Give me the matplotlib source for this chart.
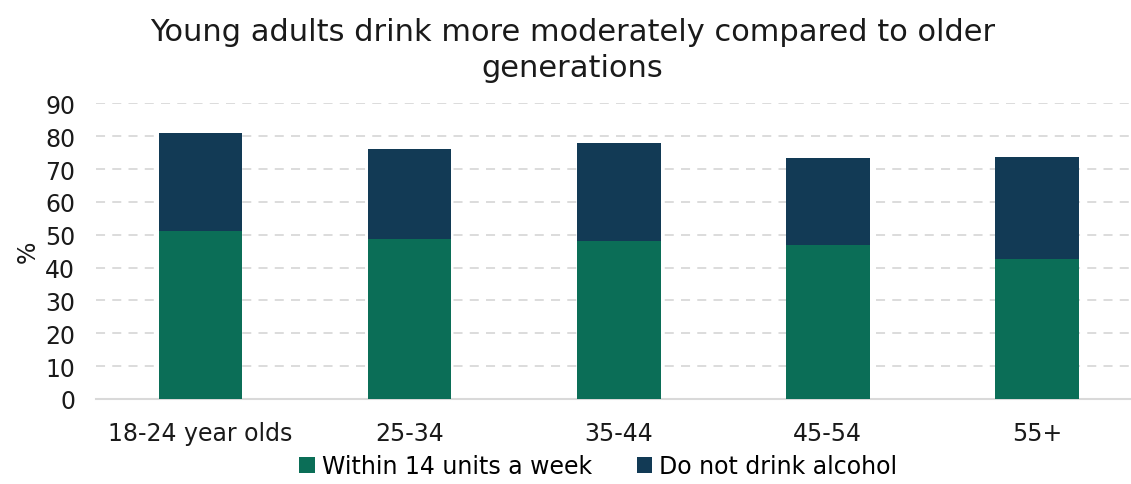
import matplotlib
matplotlib.use("Agg")
import matplotlib.pyplot as plt
import numpy as np

# --- DATA ---
AGE_GROUPS = ["18-24 year olds", "25-34", "35-44", "45-54", "55+"]
WITHIN_14_UNITS = [51.1, 48.7, 48.2, 47.0, 42.7]
NON_DRINKERS = [29.8, 27.4, 29.8, 26.2, 31.1]

GREEN = "#0B6E57"
NAVY = "#123A55"
GRID = "#D9D9D9"

plt.rcParams['font.family'] = ['DejaVu Sans']

fig = plt.figure(figsize=(11.31, 4.85), dpi=100)
ax = fig.add_axes([96 / 1131, 85 / 485, 1 - 96 / 1131, 0.6097])

x = np.arange(len(AGE_GROUPS))
ax.bar(x, WITHIN_14_UNITS, width=0.40, color=GREEN,
       label="Within 14 units a week", zorder=3)
ax.bar(x, NON_DRINKERS, width=0.40, bottom=WITHIN_14_UNITS, color=NAVY,
       label="Do not drink alcohol", zorder=3)

ax.set_xlim(-0.5, 4.45)
ax.set_ylim(0, 90)
ax.set_yticks(range(0, 91, 10))
ax.set_xticks(x)
ax.set_xticklabels(AGE_GROUPS)
ax.tick_params(axis='both', length=0, labelsize=17, colors="#1a1a1a")
ax.tick_params(axis='x', pad=16)
ax.tick_params(axis='y', pad=15)

ax.yaxis.grid(True, color=GRID, linestyle=(0, (5, 4)), linewidth=1.3, zorder=0)
for side in ("top", "right", "left"):
    ax.spines[side].set_visible(False)
ax.spines["bottom"].set_color(GRID)
ax.spines["bottom"].set_linewidth(1.5)

ax.set_ylabel("%", fontsize=17, color="#1a1a1a", labelpad=4)

fig.text(0.506, 0.962, "Young adults drink more moderately compared to older\ngenerations",
         ha="center", va="top", fontsize=22, color="#1a1a1a", linespacing=1.3)

fig.legend(loc="center", bbox_to_anchor=(0.529, 0.037), ncol=2, frameon=False,
           fontsize=17, handlelength=0.65, handleheight=0.65, handletextpad=0.3,
           columnspacing=1.9)

fig.savefig("out.png", dpi=100)
